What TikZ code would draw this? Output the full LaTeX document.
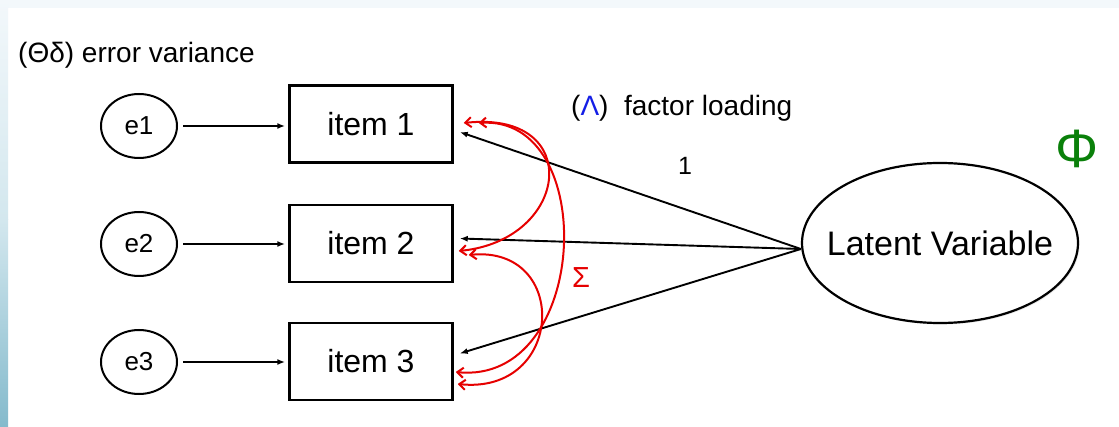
\documentclass[tikz,border=0pt]{standalone}
\usepackage{fontspec}
\setmainfont{Liberation Sans}
\usetikzlibrary{shapes.geometric,arrows.meta,calc,shadows}
\definecolor{edgelight}{HTML}{F3F8FB}
\definecolor{edgemid}{HTML}{D3E7EE}
\definecolor{edgedark}{HTML}{84BACC}
\definecolor{lambdablue}{RGB}{20,30,230}
\definecolor{sigmared}{RGB}{230,0,0}
\definecolor{phigreen}{RGB}{10,128,10}
\begin{document}
\begin{tikzpicture}[x=1pt,y=-1pt,
  errnode/.style={ellipse,draw,line width=2pt,minimum width=76pt,minimum height=64pt,inner sep=0pt,font=\fontsize{26}{30}\selectfont},
  itembox/.style={rectangle,draw,line width=2.5pt,minimum width=163pt,minimum height=77pt,inner sep=0pt,fill=white,
    drop shadow={opacity=0.18,shadow xshift=1.5pt,shadow yshift=-1.5pt},font=\fontsize{32}{36}\selectfont},
  latent/.style={ellipse,draw,line width=2.2pt,minimum width=276pt,minimum height=160pt,inner sep=0pt,fill=white,
    drop shadow={opacity=0.18,shadow xshift=1.5pt,shadow yshift=-1.5pt}},
  blk/.style={line width=1.9pt,-{Latex[length=8pt,width=6pt]}},
  cov/.style={draw=sigmared,line width=2pt,{Straight Barb[length=6pt,width=10pt]}-{Straight Barb[length=6pt,width=10pt]}},
  lbl/.style={font=\fontsize{28}{32}\selectfont,inner sep=0pt}
]
\useasboundingbox (0,0) rectangle (1119,427);
% background
\fill[white] (0,0) rectangle (1119,427);
\fill[edgelight] (0,0) rectangle (1119,8);
\shade[top color=edgelight,bottom color=edgemid] (0,0) rectangle (8,220);
\shade[top color=edgemid,bottom color=edgedark] (0,220) rectangle (8,427);

% nodes
\node[errnode] (e1) at (139,126) {e1};
\node[errnode] (e2) at (139,244) {e2};
\node[errnode] (e3) at (139,362) {e3};
\node[itembox] (i1) at (371,124) {item 1};
\node[itembox] (i2) at (371,243.5) {item 2};
\node[itembox] (i3) at (371,361.5) {item 3};
\node[latent,label={[font=\fontsize{34}{40}\selectfont,inner sep=0pt]center:Latent Variable}] (lv) at (940,243) {};

\node[lbl,anchor=west] (ev) at (18,55) {(Θδ) error variance};
\node[lbl,anchor=west] (fl) at (571,108) {(\textcolor{lambdablue}{Λ})\ \ factor loading};
\node[font=\fontsize{25}{30}\selectfont,inner sep=0pt] (one) at (685,166) {1};
\node[font=\fontsize{29}{34}\selectfont,inner sep=0pt,text=sigmared] (sig) at (581,278) {Σ};
\node[font=\fontsize{54}{60}\selectfont,inner sep=0pt,text=phigreen] (phi) at (1077,149) {Φ};

% error arrows
\draw[blk,shorten <=5pt,shorten >=3pt] (e1.east) -- (e1.east -| i1.west);
\draw[blk,shorten <=5pt,shorten >=3pt] (e2.east) -- (e2.east -| i2.west);
\draw[blk,shorten <=5pt,shorten >=3pt] (e3.east) -- (e3.east -| i3.west);

% loadings
\coordinate (lvp) at ($(lv.west)+(0,6)$);
\draw[blk] (lvp) -- ($(i1.east)+(6,8)$);
\draw[blk] (lvp) -- ($(i2.east)+(6,-5)$);
\draw[blk] (lvp) -- ($(i3.east)+(6,-8)$);

% covariances
\draw[cov] ($(i1.east)+(10,-1)$) .. controls (585,110) and (570,240) .. ($(i2.east)+(5,7.5)$);
\draw[cov] ($(i1.east)+(25,-1)$) .. controls (600,115) and (590,385) .. ($(i3.east)+(2,10.5)$);
\draw[cov] ($(i2.east)+(15,11.5)$) .. controls (570,245) and (565,395) .. ($(i3.east)+(4,22.5)$);
\end{tikzpicture}
\end{document}
